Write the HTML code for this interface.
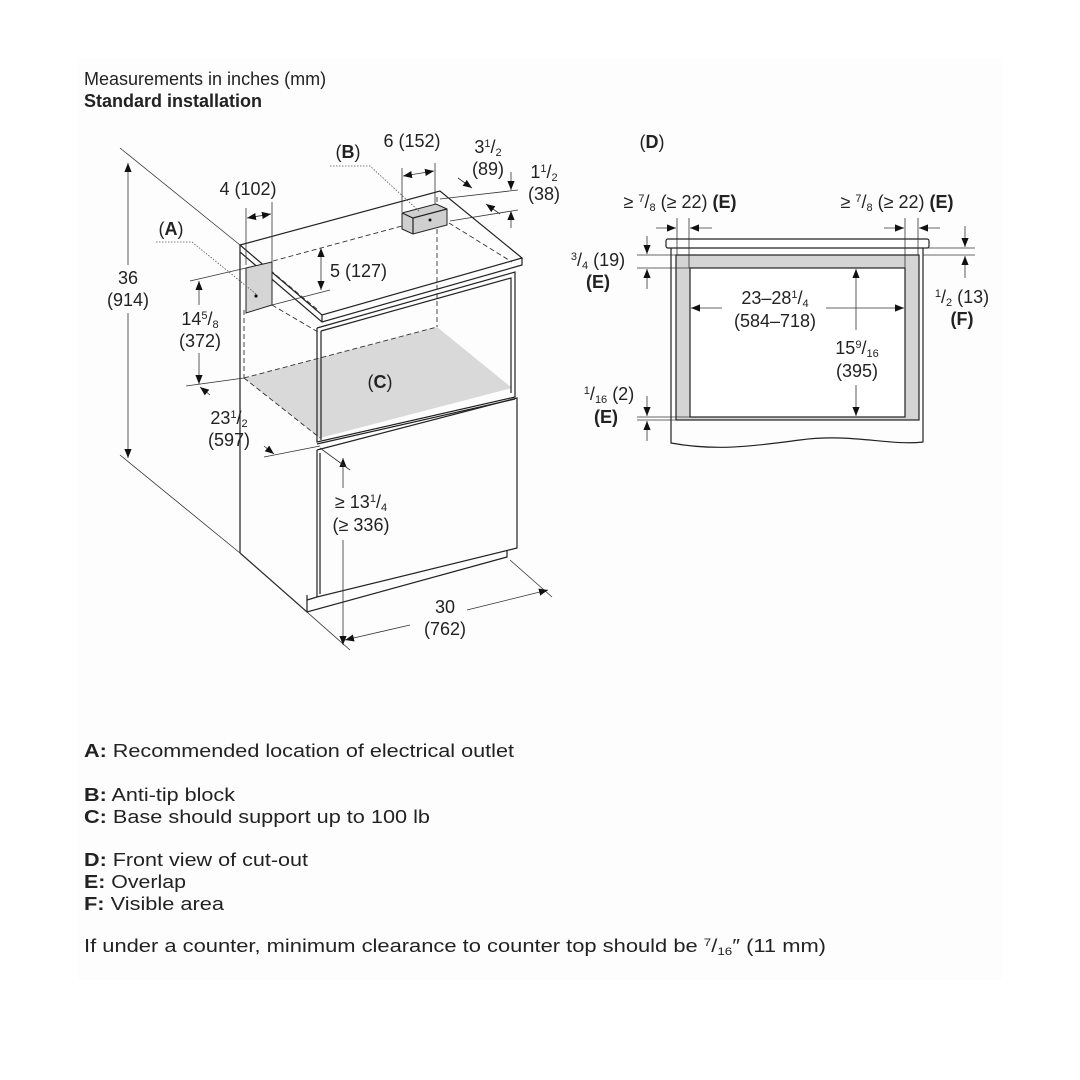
<!DOCTYPE html>
<html><head><meta charset="utf-8"><style>
html,body{margin:0;padding:0;background:#fff;}
svg{display:block;font-family:"Liberation Sans",Arial,sans-serif;fill:#222;}
.l{stroke:#222;stroke-width:1.2;fill:none;}
.t{stroke:#333;stroke-width:0.8;fill:none;}
.d{stroke:#333;stroke-width:0.9;fill:none;stroke-dasharray:5 3;}
.o{stroke:#555;stroke-width:0.8;fill:none;stroke-dasharray:1.5 1.5;}
text{font-size:18px;}
.s{font-size:11px;}
</style></head><body>
<svg width="1080" height="1080" viewBox="0 0 1080 1080">
<defs>
<marker id="a" viewBox="0 0 10 10" refX="10" refY="5" markerWidth="9" markerHeight="9" orient="auto-start-reverse" markerUnits="userSpaceOnUse"><path d="M0,1 L10,5 L0,9 z" fill="#111"/></marker>
</defs>
<rect x="78" y="58" width="924" height="922" fill="#fdfdfd"/>
<text x="84" y="85" font-size="18">Measurements in inches (mm)</text>
<text x="84" y="107" font-size="18" font-weight="bold">Standard installation</text>

<!-- cabinet -->
<polygon points="244,378 437,327 512,388 320,438" fill="#d9d9d9"/>
<polygon class="l" fill="#fff" points="240,245 440,191 522,258 322,315"/>
<polyline class="l" points="240,245 240,252 322,322 522,265 522,258"/>
<line class="l" x1="322" y1="315" x2="322" y2="322"/>
<line class="l" x1="240" y1="252" x2="240" y2="553"/>
<polyline class="l" points="240,553 307,612 507,557 507,550"/>
<line class="l" x1="307" y1="612" x2="307" y2="595"/>
<polyline class="l" points="317,328 515,272 515,397 317,442 317,328"/>
<polyline class="l" points="321,331 511,278 511,393"/>
<line class="l" x1="321" y1="331" x2="321" y2="440"/>
<polyline class="l" points="317,450 517,398 517,548 317,597 317,450"/>
<line class="l" x1="317" y1="444" x2="515" y2="399"/>
<line class="l" x1="320" y1="453" x2="320" y2="594"/>
<line class="l" x1="317" y1="597" x2="307" y2="600"/>
<!-- dashed hidden -->
<line class="d" x1="244" y1="310" x2="244" y2="378"/>
<line class="d" x1="244" y1="378" x2="437" y2="327"/>
<line class="d" x1="244" y1="378" x2="320" y2="438"/>
<line class="d" x1="437" y1="197" x2="437" y2="327"/>
<line class="d" x1="273" y1="261" x2="402" y2="226"/>
<line class="d" x1="449" y1="223" x2="512" y2="262"/>
<line class="d" x1="272" y1="305" x2="318" y2="332"/>
<line class="d" x1="264" y1="265" x2="318" y2="310"/>
<!-- outlet A -->
<polygon points="246,268 272,262 272,305 246,313" fill="#d5d5d5" stroke="#222" stroke-width="1"/>
<circle cx="256" cy="296" r="1.6" fill="#111"/>
<!-- block B -->
<polygon points="402,213 436,204 447,209 447,225 413,234 402,229" fill="#cfcfcf" stroke="#222" stroke-width="1"/>
<polyline class="l" points="402,213 413,218 447,209"/>
<line class="l" x1="413" y1="218" x2="413" y2="234"/>
<circle cx="430" cy="220" r="1.5" fill="#111"/>

<!-- 36 -->
<line class="t" x1="120" y1="148" x2="240" y2="245"/>
<line class="t" x1="120" y1="455" x2="240" y2="553"/>
<line class="t" x1="240" y1="553" x2="350" y2="650"/>
<line class="t" x1="128" y1="163" x2="128" y2="458" marker-start="url(#a)" marker-end="url(#a)"/>
<rect x="112" y="265" width="40" height="48" fill="#fdfdfd"/>
<text x="128" y="284" text-anchor="middle">36</text>
<text x="128" y="306" text-anchor="middle">(914)</text>
<!-- 4 (102) -->
<line class="t" x1="246" y1="208" x2="246" y2="265"/>
<line class="t" x1="272" y1="202" x2="272" y2="262"/>
<line class="t" x1="247" y1="218" x2="271" y2="214" marker-start="url(#a)" marker-end="url(#a)"/>
<text x="248" y="195" text-anchor="middle">4 (102)</text>
<!-- A -->
<text x="171" y="235" text-anchor="middle">(<tspan font-weight="bold">A</tspan>)</text>
<polyline class="o" points="156,242 192,242 256,294"/>
<!-- B -->
<text x="348" y="158" text-anchor="middle">(<tspan font-weight="bold">B</tspan>)</text>
<polyline class="o" points="330,166 370,166 420,212"/>
<!-- 6 (152) -->
<line class="t" x1="402" y1="168" x2="402" y2="212"/>
<line class="t" x1="435" y1="163" x2="435" y2="204"/>
<line class="t" x1="403" y1="176" x2="434" y2="171" marker-start="url(#a)" marker-end="url(#a)"/>
<text x="412" y="147" text-anchor="middle">6 (152)</text>
<!-- 3 1/2 -->
<text x="488" y="153" text-anchor="middle">3<tspan class="s" dy="-6">1</tspan><tspan dy="6">/</tspan><tspan class="s" dy="3">2</tspan></text>
<text x="488" y="175" text-anchor="middle">(89)</text>
<line class="t" x1="440" y1="199" x2="518" y2="190"/>
<line class="t" x1="450" y1="221" x2="518" y2="210"/>
<line class="t" x1="458" y1="178" x2="472" y2="188" marker-end="url(#a)"/>
<line class="t" x1="500" y1="214" x2="486" y2="204" marker-end="url(#a)"/>
<!-- 1 1/2 -->
<text x="544" y="178" text-anchor="middle">1<tspan class="s" dy="-6">1</tspan><tspan dy="6">/</tspan><tspan class="s" dy="3">2</tspan></text>
<text x="544" y="200" text-anchor="middle">(38)</text>
<line class="t" x1="511" y1="172" x2="511" y2="190" marker-end="url(#a)"/>
<line class="t" x1="511" y1="228" x2="511" y2="211" marker-end="url(#a)"/>
<!-- 5 (127) -->
<line class="t" x1="321" y1="248" x2="321" y2="290" marker-start="url(#a)" marker-end="url(#a)"/>
<line class="t" x1="272" y1="305" x2="330" y2="290"/>
<text x="330" y="277">5 (127)</text>
<!-- 14 5/8 -->
<line class="t" x1="190" y1="281" x2="246" y2="268"/>
<line class="t" x1="186" y1="386" x2="244" y2="378"/>
<line class="t" x1="199" y1="281" x2="199" y2="384" marker-start="url(#a)" marker-end="url(#a)"/>
<rect x="172" y="305" width="56" height="48" fill="#fdfdfd"/>
<text x="200" y="325" text-anchor="middle">14<tspan class="s" dy="-6">5</tspan><tspan dy="6">/</tspan><tspan class="s" dy="3">8</tspan></text>
<text x="200" y="347" text-anchor="middle">(372)</text>
<!-- 23 1/2 -->
<line class="t" x1="200" y1="387" x2="210" y2="395" marker-start="url(#a)"/>
<line class="t" x1="264" y1="446" x2="274" y2="454" marker-end="url(#a)"/>
<line class="t" x1="264" y1="457" x2="320" y2="446"/>
<text x="229" y="424" text-anchor="middle">23<tspan class="s" dy="-6">1</tspan><tspan dy="6">/</tspan><tspan class="s" dy="3">2</tspan></text>
<text x="229" y="446" text-anchor="middle">(597)</text>
<!-- C -->
<text x="380" y="388" text-anchor="middle">(<tspan font-weight="bold">C</tspan>)</text>
<!-- >= 13 1/4 -->
<line class="t" x1="343" y1="458" x2="343" y2="488" marker-start="url(#a)"/>
<line class="t" x1="343" y1="540" x2="343" y2="645" marker-end="url(#a)"/>
<line class="t" x1="320" y1="448" x2="350" y2="470"/>
<text x="361" y="508" text-anchor="middle">≥ 13<tspan class="s" dy="-6">1</tspan><tspan dy="6">/</tspan><tspan class="s" dy="3">4</tspan></text>
<text x="361" y="531" text-anchor="middle">(≥ 336)</text>
<!-- 30 -->
<line class="t" x1="510" y1="560" x2="552" y2="597"/>
<line class="t" x1="345" y1="640" x2="410" y2="625" marker-start="url(#a)"/>
<line class="t" x1="467" y1="610" x2="548" y2="590" marker-end="url(#a)"/>
<text x="445" y="613" text-anchor="middle">30</text>
<text x="445" y="635" text-anchor="middle">(762)</text>

<!-- D -->
<text x="652" y="148" text-anchor="middle">(<tspan font-weight="bold">D</tspan>)</text>
<path class="l" d="M671,248 L671,443 C720,452 760,445 800,440 C850,433 890,446 923,442 L923,248" fill="#fff"/>
<rect x="666" y="239" width="263" height="9" rx="2" fill="#fff" stroke="#222" stroke-width="1.2"/>
<rect x="676" y="255" width="243" height="165" fill="#d4d4d4" stroke="#222" stroke-width="1.2"/>
<rect x="690" y="268" width="215" height="149" fill="#fff" stroke="#222" stroke-width="1.2"/>
<line class="t" x1="637" y1="255" x2="676" y2="255"/>
<line class="t" x1="637" y1="268" x2="690" y2="268"/>
<line class="t" x1="637" y1="417" x2="690" y2="417"/>
<line class="t" x1="637" y1="420" x2="676" y2="420"/>
<line class="t" x1="923" y1="248" x2="975" y2="248"/>
<line class="t" x1="923" y1="255" x2="975" y2="255"/>
<line class="t" x1="677" y1="218" x2="677" y2="255"/>
<line class="t" x1="689" y1="218" x2="689" y2="268"/>
<line class="t" x1="905" y1="218" x2="905" y2="268"/>
<line class="t" x1="918" y1="218" x2="918" y2="255"/>
<line class="t" x1="656" y1="228" x2="676" y2="228" marker-end="url(#a)"/>
<line class="t" x1="712" y1="228" x2="690" y2="228" marker-end="url(#a)"/>
<line class="t" x1="884" y1="228" x2="904" y2="228" marker-end="url(#a)"/>
<line class="t" x1="940" y1="228" x2="919" y2="228" marker-end="url(#a)"/>
<text x="680" y="208" text-anchor="middle">≥ <tspan class="s" dy="-6">7</tspan><tspan dy="6">/</tspan><tspan class="s" dy="3">8</tspan><tspan dy="-3"> (≥ 22) </tspan><tspan font-weight="bold">(E)</tspan></text>
<text x="897" y="208" text-anchor="middle">≥ <tspan class="s" dy="-6">7</tspan><tspan dy="6">/</tspan><tspan class="s" dy="3">8</tspan><tspan dy="-3"> (≥ 22) </tspan><tspan font-weight="bold">(E)</tspan></text>
<!-- 3/4 -->
<line class="t" x1="647" y1="236" x2="647" y2="254" marker-end="url(#a)"/>
<line class="t" x1="647" y1="289" x2="647" y2="269" marker-end="url(#a)"/>
<text x="598" y="266" text-anchor="middle"><tspan class="s" dy="-6">3</tspan><tspan dy="6">/</tspan><tspan class="s" dy="3">4</tspan><tspan dy="-3"> (19)</tspan></text>
<text x="598" y="288" text-anchor="middle" font-weight="bold">(E)</text>
<!-- 1/2 F -->
<line class="t" x1="965" y1="226" x2="965" y2="247" marker-end="url(#a)"/>
<line class="t" x1="965" y1="278" x2="965" y2="256" marker-end="url(#a)"/>
<text x="962" y="303" text-anchor="middle"><tspan class="s" dy="-6">1</tspan><tspan dy="6">/</tspan><tspan class="s" dy="3">2</tspan><tspan dy="-3"> (13)</tspan></text>
<text x="962" y="325" text-anchor="middle" font-weight="bold">(F)</text>
<!-- width -->
<line class="t" x1="691" y1="308" x2="722" y2="308" marker-start="url(#a)"/>
<line class="t" x1="826" y1="308" x2="904" y2="308" marker-end="url(#a)"/>
<text x="775" y="304" text-anchor="middle">23–28<tspan class="s" dy="-6">1</tspan><tspan dy="6">/</tspan><tspan class="s" dy="3">4</tspan></text>
<text x="775" y="327" text-anchor="middle">(584–718)</text>
<!-- height -->
<line class="t" x1="856" y1="269" x2="856" y2="330" marker-start="url(#a)"/>
<line class="t" x1="856" y1="385" x2="856" y2="416" marker-end="url(#a)"/>
<text x="857" y="354" text-anchor="middle">15<tspan class="s" dy="-6">9</tspan><tspan dy="6">/</tspan><tspan class="s" dy="3">16</tspan></text>
<text x="857" y="377" text-anchor="middle">(395)</text>
<!-- 1/16 -->
<line class="t" x1="647" y1="396" x2="647" y2="416" marker-end="url(#a)"/>
<line class="t" x1="647" y1="441" x2="647" y2="421" marker-end="url(#a)"/>
<text x="609" y="400" text-anchor="middle"><tspan class="s" dy="-6">1</tspan><tspan dy="6">/</tspan><tspan class="s" dy="3">16</tspan><tspan dy="-3"> (2)</tspan></text>
<text x="606" y="423" text-anchor="middle" font-weight="bold">(E)</text>

<!-- legend -->
<g font-size="19">
<text x="84" y="757" textLength="430" lengthAdjust="spacingAndGlyphs"><tspan font-weight="bold">A:</tspan> Recommended location of electrical outlet</text>
<text x="84" y="801" textLength="151" lengthAdjust="spacingAndGlyphs"><tspan font-weight="bold">B:</tspan> Anti-tip block</text>
<text x="84" y="823" textLength="346" lengthAdjust="spacingAndGlyphs"><tspan font-weight="bold">C:</tspan> Base should support up to 100 lb</text>
<text x="84" y="866" textLength="224" lengthAdjust="spacingAndGlyphs"><tspan font-weight="bold">D:</tspan> Front view of cut-out</text>
<text x="84" y="888" textLength="102" lengthAdjust="spacingAndGlyphs"><tspan font-weight="bold">E:</tspan> Overlap</text>
<text x="84" y="910" textLength="140" lengthAdjust="spacingAndGlyphs"><tspan font-weight="bold">F:</tspan> Visible area</text>
<text x="84" y="952" textLength="742" lengthAdjust="spacingAndGlyphs">If under a counter, minimum clearance to counter top should be <tspan class="s" dy="-6">7</tspan><tspan dy="6">/</tspan><tspan class="s" dy="3">16</tspan><tspan dy="-3">″ (11 mm)</tspan></text>
</g>
</svg>
</body></html>
